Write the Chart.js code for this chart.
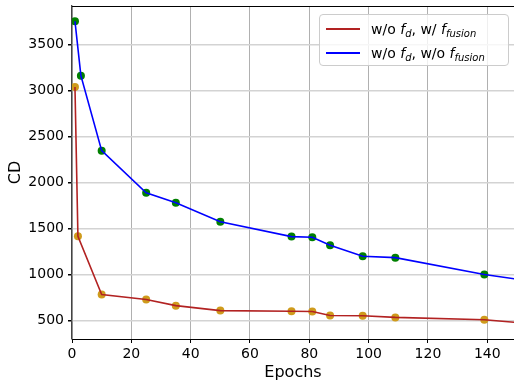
<!DOCTYPE html>
<html>
<head>
<meta charset="utf-8">
<script src="https://cdn.jsdelivr.net/npm/chart.js@4/dist/chart.umd.min.js"></script>
<style>
  html, body { margin: 0; padding: 0; background: #fff; overflow: hidden; }
  #wrap { position: relative; width: 514px; height: 383px; }
  #legend {
    position: absolute; left: 319px; top: 14px; width: 190px; height: 52px;
    border: 1px solid #cccccc; border-radius: 4px; background: rgba(255,255,255,0.8);
    font-family: "DejaVu Sans", sans-serif; font-size: 14px; color: #000;
    box-sizing: border-box;
  }
  .row { position: absolute; left: 0; height: 20px; line-height: 20px; white-space: nowrap; }
  .sw { position: absolute; left: 6px; top: 9px; width: 34px; height: 2px; }
  .lbl { position: absolute; left: 51px; top: 0; }
  sub { font-size: 10px; vertical-align: -3px; }
</style>
</head>
<body>
<div id="wrap">
  <canvas id="c" width="514" height="383"></canvas>
  <div id="legend">
    <div class="row" style="top:4px"><div class="sw" style="background:#b22222"></div><span class="lbl">w/o <i>f</i><sub><i>d</i></sub>, w/ <i>f</i><sub><i>fusion</i></sub></span></div>
    <div class="row" style="top:28px"><div class="sw" style="background:#0000ff"></div><span class="lbl">w/o <i>f</i><sub><i>d</i></sub>, w/o <i>f</i><sub><i>fusion</i></sub></span></div>
  </div>
</div>
<script>
// epochs where a checkpoint was evaluated (last one lies past the visible range)
const epochsRed = [1, 2, 10, 25, 35, 50, 74, 81, 87, 98, 109, 139, 155];
const cdRed = [3040, 1416, 781, 728, 661, 607, 600, 598, 554, 551, 533, 508, 463];

const epochsBlue = [1, 3, 10, 25, 35, 50, 74, 81, 87, 98, 109, 139, 155];
const cdBlue = [3755, 3163, 2347, 1888, 1780, 1574, 1412, 1405, 1319, 1199, 1183, 1000, 925];

const xTicks = [0, 20, 40, 60, 80, 100, 120, 140];
const yTicks = [500, 1000, 1500, 2000, 2500, 3000, 3500];

const pts = (xs, ys) => xs.map((x, i) => ({ x: x, y: ys[i] }));

const topSpine = {
  id: 'topSpine',
  afterDraw(chart) {
    const a = chart.chartArea, ctx = chart.ctx;
    ctx.save();
    ctx.strokeStyle = '#000';
    ctx.lineWidth = 1;
    ctx.beginPath();
    ctx.moveTo(a.left, a.top + 0.5);
    ctx.lineTo(a.right, a.top + 0.5);
    ctx.stroke();
    ctx.restore();
  }
};

Chart.defaults.font.family = '"DejaVu Sans", sans-serif';
Chart.defaults.color = '#000';

new Chart(document.getElementById('c').getContext('2d'), {
  type: 'scatter',
  data: {
    datasets: [
      {
        label: 'red line', data: pts(epochsRed, cdRed), showLine: true,
        borderColor: '#b22222', borderWidth: 1.6, pointRadius: 0, tension: 0, order: 0
      },
      {
        label: 'blue line', data: pts(epochsBlue, cdBlue), showLine: true,
        borderColor: '#0000ff', borderWidth: 1.6, pointRadius: 0, tension: 0, order: 0
      },
      {
        label: 'red pts', data: pts(epochsRed, cdRed), showLine: false,
        pointRadius: 4, pointBackgroundColor: '#cf9b1c', pointBorderWidth: 0, order: 1
      },
      {
        label: 'blue pts', data: pts(epochsBlue, cdBlue), showLine: false,
        pointRadius: 4, pointBackgroundColor: '#008000', pointBorderWidth: 0, order: 1
      }
    ]
  },
  options: {
    responsive: false,
    animation: false,
    devicePixelRatio: 1,
    layout: { autoPadding: false, padding: { left: 0, right: 0, top: 6, bottom: 0 } },
    plugins: { legend: { display: false }, tooltip: { enabled: false } },
    scales: {
      x: {
        type: 'linear', min: 0, max: 149,
        afterBuildTicks: s => { s.ticks = xTicks.map(v => ({ value: v })); },
        afterFit: s => { s.height = 44; s.paddingLeft = 0; s.paddingRight = 0; },
        grid: { color: '#b0b0b0', lineWidth: 1, tickLength: 4, tickColor: '#000' },
        border: { color: '#000', width: 1 },
        ticks: { font: { size: 14 }, padding: 3, maxRotation: 0, callback: v => String(v) },
        title: { display: true, text: 'Epochs', font: { size: 16 }, padding: { top: 0, bottom: 1 } }
      },
      y: {
        type: 'linear', min: 298, max: 3921,
        afterBuildTicks: s => { s.ticks = yTicks.map(v => ({ value: v })); },
        afterFit: s => { s.width = 72; s.paddingTop = 0; s.paddingBottom = 0; },
        grid: { color: '#d3d3d3', lineWidth: 1.5, tickLength: 4, tickColor: '#000' },
        border: { color: '#444', width: 1.3 },
        ticks: { font: { size: 14 }, padding: 4, callback: v => String(v) },
        title: { display: true, text: 'CD', font: { size: 16 }, padding: { top: 6, bottom: 0 } }
      }
    }
  },
  plugins: [topSpine]
});
</script>
</body>
</html>
